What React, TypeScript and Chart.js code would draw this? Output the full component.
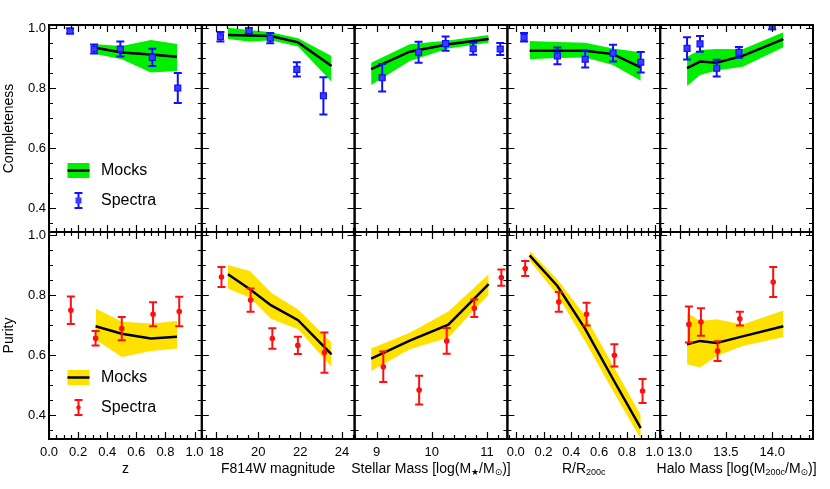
import { useEffect, useRef } from 'react';
import { Chart, registerables } from 'chart.js';

Chart.register(...registerables);

// ---------------- Data ----------------
// Panel 1: redshift z
const zMockX = [0.32, 0.5, 0.7, 0.88];
const zCompSpecX = [0.145, 0.31, 0.49, 0.71, 0.885];
const zCompSpecY = [0.99, 0.93, 0.93, 0.902, 0.8];
const zCompSpecErr = [0.008, 0.015, 0.025, 0.029, 0.05];
const zCompMock = [0.934, 0.918, 0.912, 0.904];
const zCompHi = [0.946, 0.94, 0.96, 0.947];
const zCompLo = [0.913, 0.896, 0.852, 0.857];
const zPurSpecX = [0.15, 0.32, 0.5, 0.715, 0.895];
const zPurSpecY = [0.749, 0.656, 0.688, 0.736, 0.745];
const zPurSpecErr = [0.046, 0.024, 0.039, 0.04, 0.049];
const zPurMock = [0.696, 0.671, 0.655, 0.661];
const zPurHi = [0.755, 0.711, 0.705, 0.713];
const zPurLo = [0.652, 0.593, 0.613, 0.622];

// Panel 2: F814W magnitude
const magMockX = [18.55, 19.6, 20.6, 21.9, 23.5];
const magCompSpecX = [18.19, 19.55, 20.57, 21.84, 23.11];
const magCompSpecY = [0.971, 0.991, 0.966, 0.862, 0.774];
const magCompSpecErr = [0.016, 0.008, 0.017, 0.024, 0.062];
const magCompMock = [0.977, 0.975, 0.973, 0.952, 0.873];
const magCompHi = [1.001, 0.993, 0.986, 0.966, 0.907];
const magCompLo = [0.963, 0.954, 0.959, 0.938, 0.821];
const magPurSpecX = [18.24, 19.63, 20.67, 21.89, 23.16];
const magPurSpecY = [0.86, 0.783, 0.655, 0.632, 0.608];
const magPurSpecErr = [0.033, 0.039, 0.034, 0.029, 0.067];
const magPurMock = [0.869, 0.819, 0.766, 0.716, 0.602];
const magPurHi = [0.9, 0.88, 0.808, 0.752, 0.641];
const magPurLo = [0.822, 0.791, 0.721, 0.686, 0.56];

// Panel 3: stellar mass
const smMockX = [8.9, 9.6, 10.3, 11.03];
const smCompSpecX = [9.1, 9.76, 10.25, 10.75, 11.24];
const smCompSpecY = [0.834, 0.919, 0.948, 0.931, 0.93];
const smCompSpecErr = [0.046, 0.035, 0.024, 0.02, 0.02];
const smCompMock = [0.863, 0.921, 0.946, 0.963];
const smCompHi = [0.884, 0.946, 0.958, 0.977];
const smCompLo = [0.81, 0.89, 0.932, 0.951];
const smPurSpecX = [9.12, 9.77, 10.27, 10.77, 11.26];
const smPurSpecY = [0.561, 0.483, 0.647, 0.756, 0.858];
const smPurSpecErr = [0.051, 0.048, 0.043, 0.029, 0.027];
const smPurMock = [0.588, 0.648, 0.701, 0.836];
const smPurHi = [0.622, 0.674, 0.745, 0.869];
const smPurLo = [0.547, 0.619, 0.658, 0.802];

// Panel 4: R / R200c
const rMockX = [0.1, 0.3, 0.5, 0.7, 0.9];
const rCompSpecX = [0.06, 0.3, 0.5, 0.7, 0.9];
const rCompSpecY = [0.969, 0.907, 0.896, 0.916, 0.886];
const rCompSpecErr = [0.014, 0.028, 0.028, 0.028, 0.034];
const rCompMock = [0.924, 0.924, 0.924, 0.913, 0.869];
const rCompHi = [0.957, 0.953, 0.951, 0.932, 0.919];
const rCompLo = [0.896, 0.9, 0.902, 0.877, 0.824];
const rPurSpecX = [0.068, 0.31, 0.51, 0.71, 0.913];
const rPurSpecY = [0.888, 0.777, 0.736, 0.599, 0.48];
const rPurSpecErr = [0.025, 0.033, 0.038, 0.037, 0.04];
const rPurMock = [0.932, 0.83, 0.687, 0.52, 0.356];
const rPurHi = [0.947, 0.852, 0.73, 0.565, 0.4];
const rPurLo = [0.915, 0.8, 0.645, 0.48, 0.32];

// Panel 5: halo mass
const hmMockX = [13.08, 13.22, 13.4, 13.68, 14.12];
const hmCompSpecX = [13.08, 13.22, 13.4, 13.64, 14.0];
const hmCompSpecY = [0.932, 0.947, 0.866, 0.919, 1.004];
const hmCompSpecErr = [0.037, 0.026, 0.028, 0.018, 0.008];
const hmCompMock = [0.866, 0.888, 0.884, 0.907, 0.963];
const hmCompHi = [0.904, 0.927, 0.93, 0.929, 0.986];
const hmCompLo = [0.807, 0.843, 0.858, 0.871, 0.936];
const hmPurSpecX = [13.1, 13.23, 13.41, 13.65, 14.01];
const hmPurSpecY = [0.702, 0.71, 0.613, 0.721, 0.843];
const hmPurSpecErr = [0.06, 0.046, 0.033, 0.023, 0.05];
const hmPurMock = [0.636, 0.647, 0.64, 0.662, 0.696];
const hmPurHi = [0.741, 0.713, 0.719, 0.702, 0.748];
const hmPurLo = [0.569, 0.558, 0.597, 0.63, 0.66];

// Axis text
const rowTitles = ['Completeness', 'Purity'];
const legendLabels = ['Mocks', 'Spectra'];
const yTickStep = 0.2;

// ---------------- Configuration ----------------
const FONT = "'Liberation Sans', Arial, Helvetica, 'DejaVu Sans', sans-serif";

type Seg = [string, boolean];

const PANELS = [
  {
    xId: 'x0', min: 0, max: 1.05, major: 0.2, minor: 0.05, dec: 1, mockX: zMockX,
    title: [['z', false]] as Seg[],
    comp: { sx: zCompSpecX, sy: zCompSpecY, se: zCompSpecErr, mock: zCompMock, hi: zCompHi, lo: zCompLo },
    pur: { sx: zPurSpecX, sy: zPurSpecY, se: zPurSpecErr, mock: zPurMock, hi: zPurHi, lo: zPurLo },
  },
  {
    xId: 'x1', min: 17.3, max: 24.6, major: 2, minor: 0.5, dec: 0, mockX: magMockX,
    title: [['F814W magnitude', false]] as Seg[],
    comp: { sx: magCompSpecX, sy: magCompSpecY, se: magCompSpecErr, mock: magCompMock, hi: magCompHi, lo: magCompLo },
    pur: { sx: magPurSpecX, sy: magPurSpecY, se: magPurSpecErr, mock: magPurMock, hi: magPurHi, lo: magPurLo },
  },
  {
    xId: 'x2', min: 8.6, max: 11.37, major: 1, minor: 0.2, dec: 0, mockX: smMockX,
    title: [['Stellar Mass [log(M', false], ['\u2605', true], ['/M', false], ['\u2299', true], [')]', false]] as Seg[],
    comp: { sx: smCompSpecX, sy: smCompSpecY, se: smCompSpecErr, mock: smCompMock, hi: smCompHi, lo: smCompLo },
    pur: { sx: smPurSpecX, sy: smPurSpecY, se: smPurSpecErr, mock: smPurMock, hi: smPurHi, lo: smPurLo },
  },
  {
    xId: 'x3', min: -0.06, max: 1.04, major: 0.2, minor: 0.05, dec: 1, mockX: rMockX,
    title: [['R/R', false], ['200c', true]] as Seg[],
    comp: { sx: rCompSpecX, sy: rCompSpecY, se: rCompSpecErr, mock: rCompMock, hi: rCompHi, lo: rCompLo },
    pur: { sx: rPurSpecX, sy: rPurSpecY, se: rPurSpecErr, mock: rPurMock, hi: rPurHi, lo: rPurLo },
  },
  {
    xId: 'x4', min: 12.79, max: 14.44, major: 0.5, minor: 0.1, dec: 1, mockX: hmMockX,
    title: [['Halo Mass [log(M', false], ['200c', true], ['/M', false], ['\u2299', true], [')]', false]] as Seg[],
    comp: { sx: hmCompSpecX, sy: hmCompSpecY, se: hmCompSpecErr, mock: hmCompMock, hi: hmCompHi, lo: hmCompLo },
    pur: { sx: hmPurSpecX, sy: hmPurSpecY, se: hmPurSpecErr, mock: hmPurMock, hi: hmPurHi, lo: hmPurLo },
  },
];

const ROWS = [
  { yId: 'yC', key: 'comp', band: '#00ee00', spec: '#1010ff', fill: '#3c3cff', marker: 'rect', radius: 4.2 },
  { yId: 'yP', key: 'pur', band: '#ffe100', spec: '#ff1010', fill: '#ff1010', marker: 'circle', radius: 2.2 },
];

const Y_MIN = 0.32;
const Y_MAX = 1.01;

function pts(xs: number[], ys: number[]) {
  return xs.map((x, i) => ({ x, y: ys[i] }));
}
function errPts(xs: number[], ys: number[], es: number[]) {
  const out: { x: number; y: number | null }[] = [];
  xs.forEach((x, i) => {
    out.push({ x, y: ys[i] - es[i] }, { x, y: ys[i] + es[i] }, { x, y: null });
  });
  return out;
}

function buildDatasets() {
  const ds: any[] = [];
  ROWS.forEach((row) => {
    PANELS.forEach((p) => {
      const d = (p as any)[row.key];
      const common = { xAxisID: p.xId, yAxisID: row.yId, type: 'line' };
      ds.push({ ...common, data: pts(p.mockX, d.hi), borderColor: 'rgba(0,0,0,0)', borderWidth: 0, pointRadius: 0, fill: '+1', backgroundColor: row.band, order: 10 });
      ds.push({ ...common, data: pts(p.mockX, d.lo), borderColor: 'rgba(0,0,0,0)', borderWidth: 0, pointRadius: 0, fill: false, order: 10 });
      ds.push({ ...common, data: pts(p.mockX, d.mock), borderColor: '#000', borderWidth: 2.5, pointRadius: 0, fill: false, order: 5 });
      ds.push({
        ...common, data: errPts(d.sx, d.sy, d.se), borderColor: row.spec, borderWidth: 2, fill: false,
        pointStyle: 'line', pointRadius: 4, pointBorderWidth: 2, pointBorderColor: row.spec, pointBackgroundColor: row.spec,
        spanGaps: false, order: 3,
      });
      ds.push({
        ...common, data: pts(d.sx, d.sy), showLine: false, fill: false,
        pointStyle: row.marker, pointRadius: row.radius, pointBackgroundColor: row.fill,
        pointBorderColor: row.spec, pointBorderWidth: 1.2, order: 1,
      });
    });
  });
  return ds;
}

function tickVals(min: number, max: number, step: number) {
  const out: number[] = [];
  const k0 = Math.ceil(min / step - 1e-9);
  for (let k = k0; k * step <= max + 1e-9; k++) out.push(k * step);
  return out;
}
function isMajor(v: number, major: number) {
  const r = v / major;
  return Math.abs(r - Math.round(r)) < 1e-6;
}

const panelPlugin = {
  id: 'panelFrames',
  afterDraw(chart: any) {
    const ctx = chart.ctx as CanvasRenderingContext2D;
    ctx.save();
    const yScales = ROWS.map((r) => chart.scales[r.yId]);
    PANELS.forEach((p) => {
      const xs = chart.scales[p.xId];
      yScales.forEach((ys: any) => {
        const L = xs.left, R = xs.right, T = ys.top, B = ys.bottom;
        ctx.strokeStyle = '#000';
        ctx.lineWidth = 1.2;
        ctx.beginPath();
        tickVals(p.min, p.max, p.minor).forEach((v) => {
          const px = Math.round(xs.getPixelForValue(v)) + 0.5;
          const len = isMajor(v, p.major) ? 7 : 4;
          ctx.moveTo(px, B); ctx.lineTo(px, B - len);
          ctx.moveTo(px, T); ctx.lineTo(px, T + len);
        });
        tickVals(Y_MIN, Y_MAX, 0.05).forEach((v) => {
          const py = Math.round(ys.getPixelForValue(v)) + 0.5;
          const len = isMajor(v, yTickStep) ? 7 : 4;
          ctx.moveTo(L, py); ctx.lineTo(L + len, py);
          ctx.moveTo(R, py); ctx.lineTo(R - len, py);
        });
        ctx.stroke();
        ctx.lineWidth = 2;
        ctx.strokeRect(L, T, R - L, B - T);
      });
      // x-axis titles with subscripts
      const cx = (xs.left + xs.right) / 2;
      const base = xs.top + 33.5;
      let total = 0;
      p.title.forEach(([t, sub]) => {
        ctx.font = sub ? `9px ${FONT}` : `14px ${FONT}`;
        total += ctx.measureText(t).width;
      });
      let x = cx - total / 2;
      ctx.fillStyle = '#000';
      ctx.textAlign = 'left';
      ctx.textBaseline = 'alphabetic';
      p.title.forEach(([t, sub]) => {
        ctx.font = sub ? `9px ${FONT}` : `14px ${FONT}`;
        ctx.fillText(t, x, sub ? base + 2 : base);
        x += ctx.measureText(t).width;
      });
    });

    // legends
    const x0 = chart.scales['x0'];
    ROWS.forEach((row, r) => {
      const ys = yScales[r];
      const L = x0.left, T = ys.top;
      ctx.fillStyle = row.band;
      ctx.fillRect(L + 18.5, T + 138, 22, 15);
      ctx.strokeStyle = '#000';
      ctx.lineWidth = 2.5;
      ctx.beginPath();
      ctx.moveTo(L + 18.5, T + 145.5); ctx.lineTo(L + 40.5, T + 145.5);
      ctx.stroke();
      const ex = L + 29.5;
      ctx.strokeStyle = row.spec;
      ctx.lineWidth = 2;
      ctx.beginPath();
      ctx.moveTo(ex, T + 168); ctx.lineTo(ex, T + 183);
      ctx.moveTo(ex - 4, T + 168); ctx.lineTo(ex + 4, T + 168);
      ctx.moveTo(ex - 4, T + 183); ctx.lineTo(ex + 4, T + 183);
      ctx.stroke();
      ctx.fillStyle = row.fill;
      if (row.marker === 'rect') {
        ctx.fillRect(ex - 3, T + 175.5 - 3, 6, 6);
      } else {
        ctx.beginPath();
        ctx.arc(ex, T + 175.5, 2.2, 0, Math.PI * 2);
        ctx.fill();
      }
      ctx.fillStyle = '#000';
      ctx.font = `16px ${FONT}`;
      ctx.textAlign = 'left';
      ctx.textBaseline = 'middle';
      ctx.fillText(legendLabels[0], L + 52, T + 145.5);
      ctx.fillText(legendLabels[1], L + 52, T + 176);
    });
    ctx.restore();
  },
};

function buildScales() {
  const scales: any = {};
  ROWS.forEach((row, r) => {
    scales[row.yId] = {
      type: 'linear', position: 'left', axis: 'y', stack: 'rows', stackWeight: 1, weight: r === 0 ? 1 : 0,
      min: Y_MIN, max: Y_MAX,
      ticks: {
        stepSize: yTickStep, includeBounds: false, padding: 3, color: '#000',
        font: { family: FONT, size: 13 },
        callback: (v: any) => Number(v).toFixed(1),
      },
      grid: { display: false, drawTicks: false, tickLength: 0 },
      border: { display: false },
      title: { display: true, text: rowTitles[r], color: '#000', font: { family: FONT, size: 14 }, padding: { top: 1, bottom: 0 } },
      afterFit: (s: any) => { s.width = 49; },
    };
  });
  PANELS.forEach((p, i) => {
    scales[p.xId] = {
      type: 'linear', position: 'bottom', axis: 'x', stack: 'cols', stackWeight: 1, weight: i,
      min: p.min, max: p.max,
      ticks: {
        stepSize: p.major, includeBounds: false, autoSkip: false, maxRotation: 0, minRotation: 0,
        padding: 6, color: '#000', font: { family: FONT, size: 13 },
        callback: (v: any) => Number(v).toFixed(p.dec),
      },
      grid: { display: false, drawTicks: false, tickLength: 0 },
      border: { display: false },
      afterFit: (s: any) => { s.height = 50; },
    };
  });
  return scales;
}

export default function App() {
  const ref = useRef<HTMLCanvasElement>(null);
  useEffect(() => {
    const chart = new Chart(ref.current as HTMLCanvasElement, {
      type: 'line',
      data: { datasets: buildDatasets() },
      options: {
        responsive: false,
        animation: false,
        events: [],
        devicePixelRatio: 1,
        layout: { padding: { top: 25, right: 17, left: 0, bottom: 0 } },
        plugins: { legend: { display: false }, tooltip: { enabled: false }, title: { display: false } },
        elements: { line: { tension: 0 } },
        scales: buildScales(),
      } as any,
      plugins: [panelPlugin],
    } as any);
    return () => chart.destroy();
  }, []);
  return (
    <div style={{ position: 'fixed', left: 0, top: 0, width: 830, height: 489, background: '#fff' }}>
      <canvas ref={ref} width={830} height={489} style={{ display: 'block' }} />
    </div>
  );
}
